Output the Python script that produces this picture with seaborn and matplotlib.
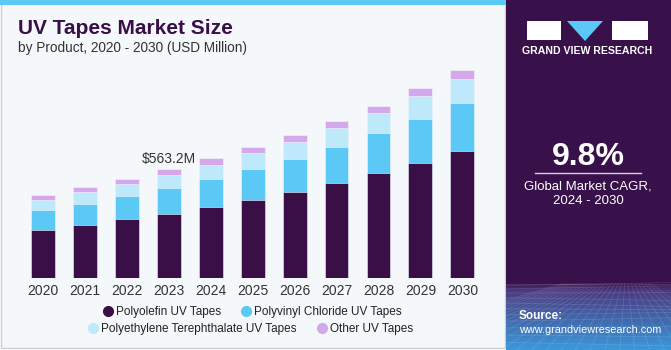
import numpy as np
import pandas as pd
import seaborn as sns
import matplotlib.pyplot as plt
from matplotlib.patches import Rectangle, Polygon
from matplotlib.lines import Line2D

# Dados (USD milhões)
anos = ['2020', '2021', '2022', '2023', '2024', '2025', '2026', '2027', '2028', '2029', '2030']
poliolefina = [250.8, 276.6, 304.0, 333.1, 365.9, 403.7, 446.6, 491.3, 542.8, 594.3, 657.9]
pvc = [101.3, 108.2, 120.2, 134.0, 147.7, 159.7, 168.3, 185.5, 204.4, 225.0, 247.3]
pet = [53.2, 58.4, 61.8, 67.0, 70.4, 82.4, 89.3, 96.2, 104.8, 118.5, 123.7]
outros = [22.3, 27.5, 27.5, 29.1, 34.4, 30.9, 32.6, 36.1, 37.8, 41.2, 46.4]

series = ['Polyolefin UV Tapes', 'Polyvinyl Chloride UV Tapes',
          'Polyethylene Terephthalate UV Tapes', 'Other UV Tapes']
cores = ['#3A0F47', '#5BC8F5', '#BDE9FA', '#D4A8EB']

dados = pd.DataFrame({'ano': anos, series[0]: poliolefina, series[1]: pvc,
                      series[2]: pet, series[3]: outros})

W, H = 671, 350
fig = plt.figure(figsize=(W / 100, H / 100), dpi=100)
fig.patch.set_facecolor('white')

# Fundo do cartão e faixa superior
fig.patches.append(Rectangle((0.002, 0.006), 504 / W, 0.99, transform=fig.transFigure,
                             facecolor='#F4F8FB', edgecolor='#CFCFCF', linewidth=1, zorder=-2))
fig.patches.append(Rectangle((0, 1 - 5 / H), 506 / W, 5 / H, transform=fig.transFigure,
                             facecolor='#5BC8F5', edgecolor='none', zorder=-1))

# Painel da direita com gradiente
painel = fig.add_axes([506 / W, 0, 165 / W, 1])
painel.set_zorder(-1)
topo = np.array([0x38, 0x10, 0x4A]) / 255
meio = np.array([0x4A, 0x3A, 0x80]) / 255
base = np.array([0x3A, 0x9A, 0xDC]) / 255
img = np.zeros((H, 10, 3))
for i in range(H):
    if i < 283:
        img[i] = topo
    elif i < 290:
        t = (i - 283) / 7
        img[i] = topo * (1 - t) + meio * t
    else:
        t = (i - 290) / (H - 290)
        img[i] = meio * (1 - t) + base * t
painel.imshow(img, aspect='auto', extent=[0, 1, 0, 1])
# textura de grade em perspectiva
for k in range(12):
    yy = 0.19 * (1 - (k / 12) ** 1.4)
    painel.plot([0, 1], [yy, yy + 0.01 * np.sin(k)], color='white', alpha=0.12, lw=0.6)
for k in range(-8, 20):
    painel.plot([0.5 + k * 0.02, k * 0.09 - 0.3], [0.19, 0], color='white', alpha=0.12, lw=0.6)
painel.set_xlim(0, 1)
painel.set_ylim(0, 1)
painel.axis('off')

# Logotipo
fig.patches.append(Rectangle((527 / W, 1 - 40 / H), 34 / W, 19 / H, transform=fig.transFigure,
                             facecolor='white', edgecolor='none'))
fig.patches.append(Polygon([(567 / W, 1 - 21 / H), (603 / W, 1 - 21 / H), (585 / W, 1 - 41 / H)],
                           closed=True, transform=fig.transFigure, facecolor='#5BC8F5', edgecolor='none'))
fig.patches.append(Rectangle((612 / W, 1 - 40 / H), 36 / W, 19 / H, transform=fig.transFigure,
                             facecolor='white', edgecolor='none'))
fig.text(587 / W, 1 - 51 / H, 'GRAND VIEW RESEARCH', color='white', fontsize=7.6,
         weight='bold', ha='center', va='center', family='Liberation Sans')

fig.text(588 / W, 1 - 157 / H, '9.8%', color='white', fontsize=23, weight='bold',
         ha='center', va='center', family='Liberation Sans')
fig.lines.append(Line2D([535 / W, 641 / W], [1 - 173 / H, 1 - 173 / H], color='#D9CFE0',
                        lw=1, transform=fig.transFigure))
fig.text(588 / W, 1 - 186 / H, 'Global Market CAGR,', color='white', fontsize=9.5,
         ha='center', va='center', family='Liberation Sans')
fig.text(588 / W, 1 - 201 / H, '2024 - 2030', color='white', fontsize=9.5,
         ha='center', va='center', family='Liberation Sans')
fig.text(519 / W, 1 - 316 / H, 'Source:', color='white', fontsize=8.5, weight='bold',
         ha='left', va='center', family='Liberation Sans')
fig.text(519 / W, 1 - 330 / H, 'www.grandviewresearch.com', color='white', fontsize=7.8,
         ha='left', va='center', family='Liberation Sans')

# Títulos
fig.text(18 / W, 1 - 28 / H, 'UV Tapes Market Size', color='#3A0F47', fontsize=15,
         weight='bold', ha='left', va='center', family='Liberation Sans')
fig.text(18 / W, 1 - 48 / H, 'by Product, 2020 - 2030 (USD Million)', color='#333333',
         fontsize=9.8, ha='left', va='center', family='Liberation Sans')

# Barras empilhadas (sobreposição de somas acumuladas)
ax = fig.add_axes([18 / W, (H - 278.3) / H, 472 / W, 218.3 / H])
ax.set_facecolor('none')
acumulado = dados[series].cumsum(axis=1)
for i in range(3, -1, -1):
    sns.barplot(x=dados['ano'], y=acumulado[series[i]], color=cores[i], ax=ax,
                width=0.57, saturation=1, edgecolor='#F4F8FB', linewidth=0.4)

total = acumulado[series[3]]
ax.text(3, total[3] + 14, '$563.2M', ha='center', va='bottom', fontsize=10,
        color='#333333', family='Liberation Sans')

ax.set_xlim(-0.596, 10.66)
ax.set_ylim(0, 1125)
ax.set_xlabel('')
ax.set_ylabel('')
ax.set_yticks([])
ax.tick_params(axis='x', length=0, pad=4, labelsize=10, labelcolor='#333333')
for lab in ax.get_xticklabels():
    lab.set_family('Liberation Sans')
for s in ax.spines.values():
    s.set_visible(False)

# Legenda em duas linhas centradas
def alca(c):
    return Line2D([], [], marker='o', linestyle='none', markersize=7,
                  markerfacecolor=c, markeredgecolor=c)

props = dict(family='Liberation Sans', size=8.5)
leg1 = fig.legend([alca(cores[0]), alca(cores[1])], series[:2], loc='center',
                  bbox_to_anchor=(252 / W, 1 - 312 / H), ncol=2, frameon=False,
                  handletextpad=0.2, columnspacing=1.6, prop=props, handlelength=1)
leg2 = fig.legend([alca(cores[2]), alca(cores[3])], series[2:], loc='center',
                  bbox_to_anchor=(250 / W, 1 - 329 / H), ncol=2, frameon=False,
                  handletextpad=0.2, columnspacing=1.6, prop=props, handlelength=1)
for leg in (leg1, leg2):
    for t in leg.get_texts():
        t.set_color('#222222')

fig.savefig('out.png', dpi=100)
